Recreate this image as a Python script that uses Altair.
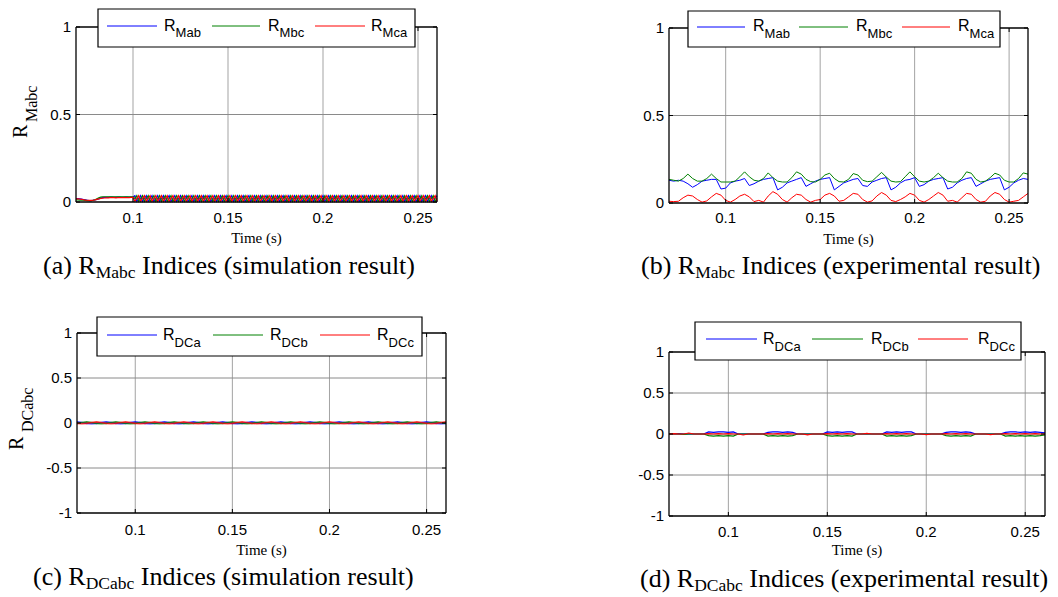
import altair as alt
import pandas as pd

# ---------------------------------------------------------------- data
T_START, T_END = 0.07, 0.26
X_TICKS = [0.1, 0.15, 0.2, 0.25]
X_TICK_LABELS = ["0.1", "0.15", "0.2", "0.25"]
Y_TICKS_M = [0.0, 0.5, 1.0]
Y_TICK_LABELS_M = ["0", "0.5", "1"]
Y_TICKS_DC = [-1.0, -0.5, 0.0, 0.5, 1.0]
Y_TICK_LABELS_DC = ["-1", "-0.5", "0", "0.5", "1"]
SERIES_COLORS = ["#0000ff", "#008000", "#ff0000"]
LEGEND_SUBS_M = ["Mab", "Mbc", "Mca"]
LEGEND_SUBS_DC = ["DCa", "DCb", "DCc"]

# (a) R_Mabc, simulation (sample step 1 ms)
A_STEP = 0.001
A_BLUE = [
    0.02, 0.02, 0.018, 0.016, 0.014, 0.012, 0.01, 0.008, 0.008, 0.01,
    0.012, 0.015, 0.018, 0.022, 0.025, 0.026, 0.027, 0.027, 0.028, 0.028,
    0.027, 0.027, 0.028, 0.028, 0.027, 0.027, 0.028, 0.028, 0.027, 0.028, 0.028,
    0.036, 0.004, 0.02, 0.036, 0.004, 0.02, 0.036, 0.004, 0.02, 0.036, 0.004, 0.02, 0.036, 0.004, 0.02, 0.036, 0.004, 0.02, 0.036, 0.004, 0.02, 0.036, 0.004, 0.02,
    0.036, 0.004, 0.02, 0.036, 0.004, 0.02, 0.036, 0.004, 0.02, 0.036, 0.004, 0.02, 0.036, 0.004, 0.02, 0.036, 0.004, 0.02, 0.036, 0.004, 0.02, 0.036, 0.004, 0.02,
    0.036, 0.004, 0.02, 0.036, 0.004, 0.02, 0.036, 0.004, 0.02, 0.036, 0.004, 0.02, 0.036, 0.004, 0.02, 0.036, 0.004, 0.02, 0.036, 0.004, 0.02, 0.036, 0.004, 0.02,
    0.036, 0.004, 0.02, 0.036, 0.004, 0.02, 0.036, 0.004, 0.02, 0.036, 0.004, 0.02, 0.036, 0.004, 0.02, 0.036, 0.004, 0.02, 0.036, 0.004, 0.02, 0.036, 0.004, 0.02,
    0.036, 0.004, 0.02, 0.036, 0.004, 0.02, 0.036, 0.004, 0.02, 0.036, 0.004, 0.02, 0.036, 0.004, 0.02, 0.036, 0.004, 0.02, 0.036, 0.004, 0.02, 0.036, 0.004, 0.02,
    0.036, 0.004, 0.02, 0.036, 0.004, 0.02, 0.036, 0.004, 0.02, 0.036, 0.004, 0.02, 0.036, 0.004, 0.02, 0.036, 0.004, 0.02, 0.036, 0.004, 0.02, 0.036, 0.004, 0.02,
    0.036, 0.004, 0.02, 0.036, 0.004, 0.02, 0.036, 0.004, 0.02, 0.036, 0.004, 0.02, 0.036, 0.004, 0.02, 0.036,
]
A_GREEN = [
    0.012, 0.012, 0.011, 0.01, 0.01, 0.009, 0.008, 0.008, 0.008, 0.01,
    0.013, 0.018, 0.024, 0.028, 0.03, 0.03, 0.03, 0.029, 0.03, 0.03,
    0.03, 0.029, 0.03, 0.03, 0.03, 0.029, 0.03, 0.03, 0.03, 0.03, 0.03,
    0.02, 0.036, 0.004, 0.02, 0.036, 0.004, 0.02, 0.036, 0.004, 0.02, 0.036, 0.004, 0.02, 0.036, 0.004, 0.02, 0.036, 0.004, 0.02, 0.036, 0.004, 0.02, 0.036, 0.004,
    0.02, 0.036, 0.004, 0.02, 0.036, 0.004, 0.02, 0.036, 0.004, 0.02, 0.036, 0.004, 0.02, 0.036, 0.004, 0.02, 0.036, 0.004, 0.02, 0.036, 0.004, 0.02, 0.036, 0.004,
    0.02, 0.036, 0.004, 0.02, 0.036, 0.004, 0.02, 0.036, 0.004, 0.02, 0.036, 0.004, 0.02, 0.036, 0.004, 0.02, 0.036, 0.004, 0.02, 0.036, 0.004, 0.02, 0.036, 0.004,
    0.02, 0.036, 0.004, 0.02, 0.036, 0.004, 0.02, 0.036, 0.004, 0.02, 0.036, 0.004, 0.02, 0.036, 0.004, 0.02, 0.036, 0.004, 0.02, 0.036, 0.004, 0.02, 0.036, 0.004,
    0.02, 0.036, 0.004, 0.02, 0.036, 0.004, 0.02, 0.036, 0.004, 0.02, 0.036, 0.004, 0.02, 0.036, 0.004, 0.02, 0.036, 0.004, 0.02, 0.036, 0.004, 0.02, 0.036, 0.004,
    0.02, 0.036, 0.004, 0.02, 0.036, 0.004, 0.02, 0.036, 0.004, 0.02, 0.036, 0.004, 0.02, 0.036, 0.004, 0.02, 0.036, 0.004, 0.02, 0.036, 0.004, 0.02, 0.036, 0.004,
    0.02, 0.036, 0.004, 0.02, 0.036, 0.004, 0.02, 0.036, 0.004, 0.02, 0.036, 0.004, 0.02, 0.036, 0.004, 0.02,
]
A_RED = [
    0.018, 0.018, 0.017, 0.015, 0.013, 0.011, 0.01, 0.009, 0.009, 0.01,
    0.012, 0.015, 0.018, 0.02, 0.022, 0.023, 0.024, 0.024, 0.025, 0.025,
    0.025, 0.024, 0.025, 0.025, 0.025, 0.025, 0.025, 0.025, 0.025, 0.026, 0.026,
    0.004, 0.02, 0.036, 0.004, 0.02, 0.036, 0.004, 0.02, 0.036, 0.004, 0.02, 0.036, 0.004, 0.02, 0.036, 0.004, 0.02, 0.036, 0.004, 0.02, 0.036, 0.004, 0.02, 0.036,
    0.004, 0.02, 0.036, 0.004, 0.02, 0.036, 0.004, 0.02, 0.036, 0.004, 0.02, 0.036, 0.004, 0.02, 0.036, 0.004, 0.02, 0.036, 0.004, 0.02, 0.036, 0.004, 0.02, 0.036,
    0.004, 0.02, 0.036, 0.004, 0.02, 0.036, 0.004, 0.02, 0.036, 0.004, 0.02, 0.036, 0.004, 0.02, 0.036, 0.004, 0.02, 0.036, 0.004, 0.02, 0.036, 0.004, 0.02, 0.036,
    0.004, 0.02, 0.036, 0.004, 0.02, 0.036, 0.004, 0.02, 0.036, 0.004, 0.02, 0.036, 0.004, 0.02, 0.036, 0.004, 0.02, 0.036, 0.004, 0.02, 0.036, 0.004, 0.02, 0.036,
    0.004, 0.02, 0.036, 0.004, 0.02, 0.036, 0.004, 0.02, 0.036, 0.004, 0.02, 0.036, 0.004, 0.02, 0.036, 0.004, 0.02, 0.036, 0.004, 0.02, 0.036, 0.004, 0.02, 0.036,
    0.004, 0.02, 0.036, 0.004, 0.02, 0.036, 0.004, 0.02, 0.036, 0.004, 0.02, 0.036, 0.004, 0.02, 0.036, 0.004, 0.02, 0.036, 0.004, 0.02, 0.036, 0.004, 0.02, 0.036,
    0.004, 0.02, 0.036, 0.004, 0.02, 0.036, 0.004, 0.02, 0.036, 0.004, 0.02, 0.036, 0.004, 0.02, 0.036, 0.004,
]

# (b) R_Mabc, experimental (sample step 2.5 ms)
B_STEP = 0.0025
B_BLUE = [0.13, 0.125, 0.13, 0.125, 0.11, 0.09, 0.105, 0.125, 0.13, 0.135,
          0.135, 0.08, 0.085, 0.115, 0.125, 0.13, 0.14, 0.1, 0.11, 0.125,
          0.135, 0.14, 0.145, 0.075, 0.09, 0.115, 0.125, 0.135, 0.145, 0.095,
          0.11, 0.125, 0.135, 0.14, 0.145, 0.075, 0.095, 0.115, 0.125, 0.135,
          0.14, 0.1, 0.095, 0.12, 0.13, 0.14, 0.145, 0.075, 0.09, 0.115,
          0.13, 0.135, 0.145, 0.095, 0.105, 0.125, 0.135, 0.14, 0.145, 0.08,
          0.09, 0.115, 0.13, 0.14, 0.145, 0.095, 0.11, 0.125, 0.135, 0.14,
          0.145, 0.075, 0.09, 0.115, 0.13, 0.14, 0.135]
B_GREEN = [0.135, 0.13, 0.125, 0.14, 0.165, 0.14, 0.125, 0.125, 0.14, 0.165,
           0.14, 0.12, 0.12, 0.12, 0.125, 0.15, 0.178, 0.15, 0.13, 0.125,
           0.14, 0.172, 0.145, 0.125, 0.12, 0.12, 0.145, 0.178, 0.165, 0.135,
           0.122, 0.12, 0.135, 0.16, 0.17, 0.14, 0.122, 0.12, 0.135, 0.168,
           0.16, 0.13, 0.122, 0.125, 0.15, 0.175, 0.148, 0.125, 0.12, 0.122,
           0.15, 0.178, 0.15, 0.125, 0.12, 0.125, 0.145, 0.17, 0.145, 0.125,
           0.12, 0.12, 0.14, 0.178, 0.17, 0.135, 0.12, 0.125, 0.145, 0.17,
           0.16, 0.13, 0.12, 0.12, 0.14, 0.172, 0.165]
B_RED = [0.01, 0.008, 0.01, 0.03, 0.045, 0.04, 0.02, 0.005, 0.012, 0.035,
         0.055, 0.045, 0.015, 0.005, 0.02, 0.04, 0.05, 0.035, 0.008, 0.015,
         0.005, 0.04, 0.065, 0.05, 0.02, 0.005, 0.03, 0.05, 0.045, 0.02,
         0.005, 0.015, 0.02, 0.045, 0.055, 0.04, 0.01, 0.015, 0.035, 0.055,
         0.05, 0.02, 0.005, 0.012, 0.04, 0.06, 0.045, 0.015, 0.008, 0.02,
         0.035, 0.055, 0.045, 0.015, 0.005, 0.02, 0.04, 0.06, 0.045, 0.01,
         0.015, 0.005, 0.03, 0.055, 0.05, 0.02, 0.005, 0.01, 0.04, 0.06,
         0.05, 0.02, 0.005, 0.01, 0.015, 0.035, 0.055]

# (c) R_DCabc, simulation (sample step 2.5 ms)
C_STEP = 0.0025
C_BLUE = [0.012, 0.006, -0.004, -0.008, -0.004, 0.006, 0.012, 0.006, -0.004, -0.008, -0.004, 0.006,
          0.012, 0.006, -0.004, -0.008, -0.004, 0.006, 0.012, 0.006, -0.004, -0.008, -0.004, 0.006,
          0.012, 0.006, -0.004, -0.008, -0.004, 0.006, 0.012, 0.006, -0.004, -0.008, -0.004, 0.006,
          0.012, 0.006, -0.004, -0.008, -0.004, 0.006, 0.012, 0.006, -0.004, -0.008, -0.004, 0.006,
          0.012, 0.006, -0.004, -0.008, -0.004, 0.006, 0.012, 0.006, -0.004, -0.008, -0.004, 0.006,
          0.012, 0.006, -0.004, -0.008, -0.004, 0.006, 0.012, 0.006, -0.004, -0.008, -0.004, 0.006,
          0.012, 0.006, -0.004, -0.008, -0.004]
C_GREEN = [-0.004, 0.006, 0.012, 0.006, -0.004, -0.008, -0.004, 0.006, 0.012, 0.006, -0.004, -0.008,
           -0.004, 0.006, 0.012, 0.006, -0.004, -0.008, -0.004, 0.006, 0.012, 0.006, -0.004, -0.008,
           -0.004, 0.006, 0.012, 0.006, -0.004, -0.008, -0.004, 0.006, 0.012, 0.006, -0.004, -0.008,
           -0.004, 0.006, 0.012, 0.006, -0.004, -0.008, -0.004, 0.006, 0.012, 0.006, -0.004, -0.008,
           -0.004, 0.006, 0.012, 0.006, -0.004, -0.008, -0.004, 0.006, 0.012, 0.006, -0.004, -0.008,
           -0.004, 0.006, 0.012, 0.006, -0.004, -0.008, -0.004, 0.006, 0.012, 0.006, -0.004, -0.008,
           -0.004, 0.006, 0.012, 0.006, -0.004]
C_RED = [-0.004, -0.008, -0.004, 0.006, 0.012, 0.006, -0.004, -0.008, -0.004, 0.006, 0.012, 0.006,
         -0.004, -0.008, -0.004, 0.006, 0.012, 0.006, -0.004, -0.008, -0.004, 0.006, 0.012, 0.006,
         -0.004, -0.008, -0.004, 0.006, 0.012, 0.006, -0.004, -0.008, -0.004, 0.006, 0.012, 0.006,
         -0.004, -0.008, -0.004, 0.006, 0.012, 0.006, -0.004, -0.008, -0.004, 0.006, 0.012, 0.006,
         -0.004, -0.008, -0.004, 0.006, 0.012, 0.006, -0.004, -0.008, -0.004, 0.006, 0.012, 0.006,
         -0.004, -0.008, -0.004, 0.006, 0.012, 0.006, -0.004, -0.008, -0.004, 0.006, 0.012, 0.006,
         -0.004, -0.008, -0.004, 0.006, 0.012]

# (d) R_DCabc, experimental (sample step 2.5 ms)
D_STEP = 0.0025
D_BLUE = [0.0, 0.0, 0.005, 0.0, 0.0, 0.0, 0.0,
          0.0, 0.025, 0.02, 0.025, 0.025, 0.02, 0.025, 0.0,
          0.0, 0.0, 0.0, 0.0,
          0.0, 0.02, 0.025, 0.025, 0.02, 0.025, 0.02, 0.0,
          0.0, 0.0, 0.0, 0.0,
          0.0, 0.025, 0.02, 0.025, 0.02, 0.025, 0.025, 0.0,
          0.0, 0.0, 0.0, 0.0,
          0.0, 0.025, 0.02, 0.025, 0.02, 0.025, 0.025, 0.0,
          0.0, 0.0, 0.0, 0.0,
          0.0, 0.02, 0.025, 0.025, 0.02, 0.025, 0.02, 0.0,
          0.0, 0.0, 0.0, 0.0,
          0.0, 0.02, 0.025, 0.025, 0.02, 0.025, 0.02, 0.025, 0.02, 0.015]
D_GREEN = [0.0, 0.0, 0.0, -0.005, 0.0, 0.0, 0.0,
           0.0, -0.02, -0.025, -0.02, -0.025, -0.02, -0.025, 0.0,
           0.0, 0.0, 0.0, 0.0,
           0.0, -0.025, -0.02, -0.025, -0.02, -0.025, -0.02, 0.0,
           0.0, 0.0, 0.0, 0.0,
           0.0, -0.02, -0.025, -0.02, -0.025, -0.02, -0.025, 0.0,
           0.0, 0.0, 0.0, 0.0,
           0.0, -0.025, -0.02, -0.025, -0.02, -0.025, -0.02, 0.0,
           0.0, 0.0, 0.0, 0.0,
           0.0, -0.02, -0.025, -0.02, -0.025, -0.02, -0.025, 0.0,
           0.0, 0.0, 0.0, 0.0,
           0.0, -0.025, -0.02, -0.025, -0.02, -0.025, -0.02, -0.025, -0.02, -0.01]
D_RED = [0.0, 0.005, 0.0, 0.0, 0.012, 0.0, 0.0,
         0.0, 0.004, 0.0, 0.004, 0.0, 0.004, 0.0, 0.0,
         -0.012, 0.0, 0.0, 0.0,
         0.0, 0.004, 0.0, 0.004, 0.0, 0.004, 0.0, 0.0,
         0.0, -0.01, 0.0, 0.0,
         0.0, 0.004, 0.0, 0.004, 0.0, 0.004, 0.0, 0.0,
         0.0, 0.008, 0.0, 0.0,
         0.0, 0.004, 0.0, 0.004, 0.0, 0.004, 0.0, 0.0,
         0.0, -0.008, 0.0, 0.0,
         0.0, 0.004, 0.0, 0.004, 0.0, 0.004, 0.0, 0.0,
         0.0, 0.0, -0.008, 0.0,
         0.0, 0.004, 0.0, 0.004, 0.0, 0.004, 0.0, 0.004, 0.0, 0.0]

# ---------------------------------------------------------------- style / layout
SANS = "Liberation Sans"
SERIF = "Liberation Serif"
GRID_V = "#a3a3a3"
GRID_H = "#8a8a8a"
TICK_LEN = 4
TIMES_W = {' ': 250, '(': 333, ')': 333, 'a': 444, 'b': 500, 'c': 444, 'd': 500,
           'e': 444, 'i': 278, 'l': 278, 'm': 778, 'n': 500, 'o': 500, 'p': 500,
           'r': 333, 's': 389, 't': 278, 'u': 500, 'x': 500, 'C': 667, 'D': 722,
           'I': 333, 'M': 889, 'R': 667}


def tw(s, size):
    return sum(TIMES_W.get(c, 500) for c in s) * size / 1000.0


ONE = alt.Data(values=[{"k": 0}])


def txt(x, y, s, size, font, align="left", angle=0):
    return alt.Chart(ONE).mark_text(
        text=s, fontSize=size, font=font, align=align, baseline="alphabetic",
        angle=angle, color="black"
    ).encode(x=alt.value(x), y=alt.value(y))


def hrule(x0, x1, y, color, width=1):
    return alt.Chart(ONE).mark_rule(color=color, strokeWidth=width).encode(
        x=alt.value(x0), x2=alt.value(x1), y=alt.value(y))


def panel(P):
    xs = alt.Scale(domain=[T_START, T_END], range=P["xr"], nice=False, zero=False)
    y0, y1 = P["ydom"]
    ys = alt.Scale(domain=[y0, y1], range=P["yr"], nice=False, zero=False)
    X = lambda f: alt.X(f, scale=xs, axis=None)
    Y = lambda f: alt.Y(f, scale=ys, axis=None)
    L = []
    # grid
    gv = pd.DataFrame({"t": X_TICKS, "a": y0, "b": y1})
    L.append(alt.Chart(gv).mark_rule(color=GRID_V, strokeWidth=1).encode(
        x=X("t:Q"), y=Y("a:Q"), y2="b:Q"))
    inner = [v for v in P["yticks"] if v not in (y0, y1)]
    gh = pd.DataFrame({"v": inner, "a": T_START, "b": T_END})
    L.append(alt.Chart(gh).mark_rule(color=GRID_H, strokeWidth=1).encode(
        y=Y("v:Q"), x=X("a:Q"), x2="b:Q"))
    # series
    for vals, col in zip(P["series"], SERIES_COLORS):
        df = pd.DataFrame({"t": [round(T_START + P["step"] * i, 6) for i in range(len(vals))],
                           "v": vals})
        L.append(alt.Chart(df).mark_line(color=col, strokeWidth=P["lw"],
                                         opacity=P.get("op", 1.0)).encode(
            x=X("t:Q"), y=Y("v:Q")))
    # box
    box = pd.DataFrame({"xa": [T_START, T_END, T_START, T_START],
                        "xb": [T_START, T_END, T_END, T_END],
                        "ya": [y0, y0, y0, y1], "yb": [y1, y1, y0, y1]})
    L.append(alt.Chart(box).mark_rule(color="black", strokeWidth=1.3).encode(
        x=X("xa:Q"), x2="xb:Q", y=Y("ya:Q"), y2="yb:Q"))
    # ticks (inward, on all four sides)
    tb = pd.DataFrame({"t": X_TICKS, "a": y0})
    L.append(alt.Chart(tb).mark_rule(color="black", y2Offset=-TICK_LEN).encode(
        x=X("t:Q"), y=Y("a:Q"), y2="a:Q"))
    tt = pd.DataFrame({"t": X_TICKS, "a": y1})
    L.append(alt.Chart(tt).mark_rule(color="black", y2Offset=TICK_LEN).encode(
        x=X("t:Q"), y=Y("a:Q"), y2="a:Q"))
    tl = pd.DataFrame({"v": P["yticks"], "a": T_START})
    L.append(alt.Chart(tl).mark_rule(color="black", x2Offset=TICK_LEN).encode(
        y=Y("v:Q"), x=X("a:Q"), x2="a:Q"))
    tr = pd.DataFrame({"v": P["yticks"], "a": T_END})
    L.append(alt.Chart(tr).mark_rule(color="black", x2Offset=-TICK_LEN).encode(
        y=Y("v:Q"), x=X("a:Q"), x2="a:Q"))
    # tick labels
    xl = pd.DataFrame({"t": X_TICKS, "lab": X_TICK_LABELS, "a": y0})
    L.append(alt.Chart(xl).mark_text(font=SANS, fontSize=15, align="center",
                                     baseline="alphabetic", dy=P["xlab_dy"],
                                     color="black").encode(
        x=X("t:Q"), y=Y("a:Q"), text="lab:N"))
    yl = pd.DataFrame({"v": P["yticks"], "lab": P["ylabs"], "a": T_START})
    L.append(alt.Chart(yl).mark_text(font=SANS, fontSize=15, align="right",
                                     baseline="alphabetic", dx=-5, dy=5,
                                     color="black").encode(
        x=X("a:Q"), y=Y("v:Q"), text="lab:N"))
    # axis title
    xc = (P["xr"][0] + P["xr"][1]) / 2.0
    L.append(txt(xc, P["time_base"], "Time (s)", 15, SERIF, align="center"))
    if P.get("ytitle"):
        sub, (rx, ry), (sx, sy) = P["ytitle"]
        L.append(txt(rx, ry, "R", 20, SERIF, angle=270))
        L.append(txt(sx, sy, sub, 16, SERIF, angle=270))
    # legend
    bx0, by0, bx1, by1 = P["leg_box"]
    L.append(alt.Chart(ONE).mark_rect(fill="white", stroke="black", strokeWidth=1.2).encode(
        x=alt.value(bx0), x2=alt.value(bx1), y=alt.value(by0), y2=alt.value(by1)))
    for (lx0, lx1), rxp, sub, col in zip(P["leg_lines"], P["leg_r_x"], P["leg_subs"], SERIES_COLORS):
        L.append(hrule(lx0, lx1, P["leg_line_y"], col, 1))
        L.append(txt(rxp, P["leg_base"], "R", 16, SANS))
        L.append(txt(rxp + 11.6, P["leg_sub_base"], sub, 13, SANS))
    # caption
    c1, csub, c2 = P["caption"]
    cx = P["cap_x"]
    cb = P["cap_base"]
    L.append(txt(cx, cb, c1, 26, SERIF))
    sx = cx + tw(c1, 26)
    L.append(txt(sx, cb + 4, csub, 17.5, SERIF))
    L.append(txt(sx + tw(csub, 17.5) + tw(" ", 26), cb, c2, 26, SERIF))
    return L


PANELS = [
    dict(xr=[76, 437], yr=[202, 27], ydom=[0.0, 1.0], yticks=Y_TICKS_M, ylabs=Y_TICK_LABELS_M,
         series=[A_BLUE, A_GREEN, A_RED], step=A_STEP, lw=1.2, xlab_dy=21, time_base=243,
         ytitle=("Mabc", (27, 138), (37, 122)),
         leg_box=(98, 9, 415, 47), leg_line_y=26, leg_lines=[(107, 157), (212, 260), (315, 365)],
         leg_r_x=[164, 268, 371], leg_base=31, leg_sub_base=37, leg_subs=LEGEND_SUBS_M,
         caption=("(a) R", "Mabc", "Indices (simulation result)"), cap_x=43, cap_base=274),
    dict(xr=[669, 1028], yr=[203, 28], ydom=[0.0, 1.0], yticks=Y_TICKS_M, ylabs=Y_TICK_LABELS_M,
         series=[B_BLUE, B_GREEN, B_RED], step=B_STEP, lw=1, xlab_dy=20, time_base=244,
         leg_box=(688, 11, 1000, 47), leg_line_y=27, leg_lines=[(697, 745), (799, 848), (902, 950)],
         leg_r_x=[753, 856, 958], leg_base=31, leg_sub_base=38, leg_subs=LEGEND_SUBS_M,
         caption=("(b) R", "Mabc", "Indices (experimental result)"), cap_x=641, cap_base=274),
    dict(xr=[77, 446], yr=[513, 333], ydom=[-1.0, 1.0], yticks=Y_TICKS_DC, ylabs=Y_TICK_LABELS_DC,
         series=[C_BLUE, C_GREEN, C_RED], step=C_STEP, lw=1.6, op=0.75, xlab_dy=22, time_base=555,
         ytitle=("DCabc", (23, 450), (33, 432)),
         leg_box=(97, 317, 422, 356), leg_line_y=335, leg_lines=[(107, 157), (213, 263), (320, 370)],
         leg_r_x=[163, 270, 377], leg_base=340, leg_sub_base=347, leg_subs=LEGEND_SUBS_DC,
         caption=("(c) R", "DCabc", "Indices (simulation result)"), cap_x=33, cap_base=585),
    dict(xr=[669, 1045], yr=[516, 352], ydom=[-1.0, 1.0], yticks=Y_TICKS_DC, ylabs=Y_TICK_LABELS_DC,
         series=[D_BLUE, D_GREEN, D_RED], step=D_STEP, lw=1.2, xlab_dy=21, time_base=555,
         leg_box=(695, 322, 1021, 360), leg_line_y=339, leg_lines=[(706, 757), (812, 863), (918, 968)],
         leg_r_x=[763, 871, 978], leg_base=344, leg_sub_base=351, leg_subs=LEGEND_SUBS_DC,
         caption=("(d) R", "DCabc", "Indices (experimental result)"), cap_x=640, cap_base=587),
]

layers = []
for P in PANELS:
    layers.extend(panel(P))

chart = (
    alt.layer(*layers)
    .resolve_scale(x="independent", y="independent")
    .properties(width=1058, height=597, padding=0,
                autosize=alt.AutoSizeParams(type="none"), background="white")
    .configure_view(stroke=None)
)

chart.save("out.html", embed_options={"renderer": "svg", "actions": False})
